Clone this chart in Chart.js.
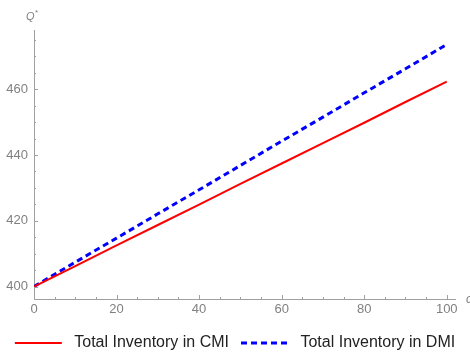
<!DOCTYPE html>
<html>
<head>
<meta charset="utf-8">
<script src="https://cdn.jsdelivr.net/npm/chart.js@4/dist/chart.umd.min.js"></script>
<style>
  body { margin: 0; background: #fff; }
  #wrap { width: 470px; height: 354px; }
</style>
</head>
<body>
<div id="wrap"><canvas id="myChart"></canvas></div>
<script>
// data
const cValues = [0, 10, 20, 30, 40, 50, 60, 70, 80, 90, 100];
const cmiValues = [400, 406.2, 412.5, 418.7, 424.9, 431.2, 437.4, 443.6, 449.8, 456.1, 462.3];
const dmiValues = [400, 407.4, 414.7, 422.1, 429.4, 436.8, 444.2, 451.5, 458.9, 466.2, 473.6];
const xTickLabels = [0, 20, 40, 60, 80, 100];
const yTickLabels = [400, 420, 440, 460];

const ctx = document.getElementById('myChart');

const axisColor = '#a0a0a0';
const labelColor = '#808080';

// Mathematica style ticks: drawn inward, short minor ticks
const tickMarks = {
    id: 'tickMarks',
    afterDraw(chart) {
        const c = chart.ctx;
        const area = chart.chartArea;
        const x = chart.scales.x;
        const y = chart.scales.y;
        c.save();
        c.strokeStyle = axisColor;
        c.lineWidth = 1;
        c.beginPath();
        x.ticks.forEach(t => {
            const px = Math.round(x.getPixelForValue(t.value)) + 0.5;
            const len = xTickLabels.includes(t.value) ? 4 : 2;
            c.moveTo(px, area.bottom);
            c.lineTo(px, area.bottom - len);
        });
        y.ticks.forEach(t => {
            const py = Math.round(y.getPixelForValue(t.value)) + 0.5;
            const len = yTickLabels.includes(t.value) ? 4 : 2;
            c.moveTo(area.left, py);
            c.lineTo(area.left + len, py);
        });
        c.stroke();

        // axis labels
        c.fillStyle = labelColor;
        c.font = 'italic 11px "Liberation Sans", Arial';
        c.textBaseline = 'alphabetic';
        c.fillText('Q', area.left - 8, 20);
        c.font = '8px "Liberation Sans", Arial';
        c.fillText('*', area.left + 1, 15);
        c.font = 'italic 12px "Liberation Sans", Arial';
        c.fillText('c', area.right + 11, area.bottom + 4);
        c.restore();
    }
};

const data = {
    labels: cValues,
    datasets: [{
        label: ' Total Inventory in CMI',
        data: cmiValues,
        borderColor: '#ff0000',
        backgroundColor: '#ff0000',
        borderWidth: 2,
        pointRadius: 0
    }, {
        label: ' Total Inventory in DMI',
        data: dmiValues,
        borderColor: '#0000ff',
        backgroundColor: '#0000ff',
        borderWidth: 3,
        borderDash: [6, 4],
        pointRadius: 0
    }]
};

const config = {
    type: 'line',
    data: data,
    options: {
        responsive: true,
        maintainAspectRatio: false,
        animation: false,
        layout: {
            padding: { top: 30, right: 0, left: 0, bottom: -7 }
        },
        scales: {
            x: {
                type: 'linear',
                min: 0,
                max: 102,
                grid: { display: false, drawTicks: false },
                border: { display: true, color: axisColor, width: 1 },
                ticks: {
                    stepSize: 5,
                    includeBounds: false,
                    autoSkip: false,
                    maxRotation: 0,
                    padding: 3,
                    color: labelColor,
                    font: { size: 13, family: '"Liberation Sans", Arial' },
                    callback: v => xTickLabels.includes(v) ? String(v) : ''
                },
                afterFit: s => { s.height = 24; s.paddingRight = 15; }
            },
            y: {
                min: 396.2,
                max: 478,
                grid: { display: false, drawTicks: false },
                border: { display: true, color: axisColor, width: 1 },
                ticks: {
                    stepSize: 5,
                    includeBounds: false,
                    autoSkip: false,
                    padding: 6,
                    color: labelColor,
                    font: { size: 13, family: '"Liberation Sans", Arial' },
                    callback: v => yTickLabels.includes(v) ? String(v) : ''
                },
                afterFit: s => { s.width = 34; }
            }
        },
        plugins: {
            legend: {
                position: 'bottom',
                labels: {
                    usePointStyle: true,
                    pointStyle: 'line',
                    pointStyleWidth: 47,
                    padding: 12,
                    color: '#222',
                    font: { size: 16, family: '"Liberation Sans", Arial' },
                    // point style drops the dataset dash, so put it back
                    generateLabels: chart => {
                        const items = Chart.defaults.plugins.legend.labels.generateLabels(chart);
                        items.forEach(item => {
                            const ds = chart.data.datasets[item.datasetIndex];
                            item.lineDash = ds.borderDash || [];
                            item.lineWidth = ds.borderWidth;
                            item.strokeStyle = ds.borderColor;
                        });
                        return items;
                    }
                }
            },
            tooltip: { enabled: false }
        }
    },
    plugins: [tickMarks]
};

const myChart = new Chart(ctx, config);
</script>
</body>
</html>
